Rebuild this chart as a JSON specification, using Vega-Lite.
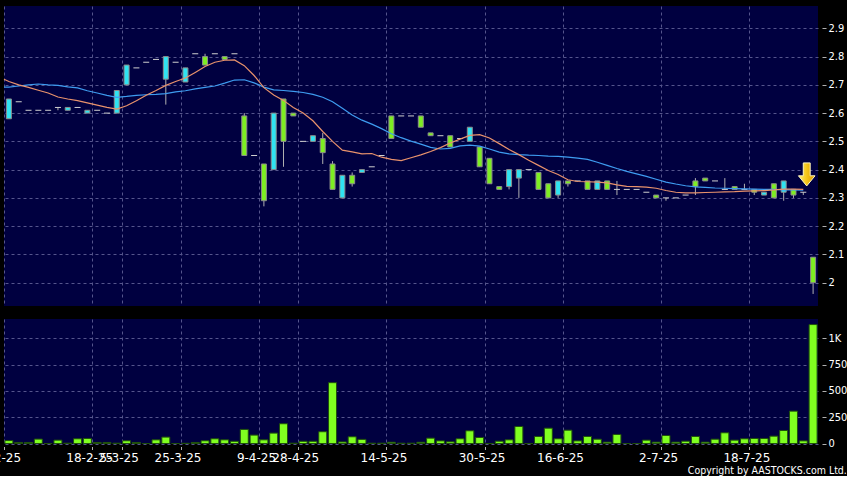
{
  "$schema": "https://vega.github.io/schema/vega-lite/v6.json",
  "background": "#000000",
  "padding": {"left": -19, "top": 6, "right": 0, "bottom": 0},
  "spacing": 13,
  "title": {"text": "Copyright by AASTOCKS.com Ltd.", "orient": "bottom", "anchor": "end", "color": "#ffffff", "fontSize": 10.5, "font": "DejaVu Sans Condensed", "fontWeight": "normal", "offset": 2},
  "datasets": {
    "k": [
      {"i":0,"o":2.58,"h":2.65,"l":2.58,"c":2.65,"v":28},
      {"i":1,"o":2.64,"h":2.64,"l":2.64,"c":2.64,"v":10},
      {"i":2,"o":2.61,"h":2.61,"l":2.61,"c":2.61,"v":10},
      {"i":3,"o":2.61,"h":2.61,"l":2.61,"c":2.61,"v":42},
      {"i":4,"o":2.61,"h":2.61,"l":2.61,"c":2.61,"v":0},
      {"i":5,"o":2.62,"h":2.62,"l":2.61,"c":2.62,"v":32},
      {"i":6,"o":2.61,"h":2.62,"l":2.61,"c":2.62,"v":3},
      {"i":7,"o":2.62,"h":2.62,"l":2.62,"c":2.62,"v":45},
      {"i":8,"o":2.60,"h":2.61,"l":2.60,"c":2.61,"v":48},
      {"i":9,"o":2.61,"h":2.61,"l":2.61,"c":2.61,"v":10},
      {"i":10,"o":2.60,"h":2.60,"l":2.60,"c":2.60,"v":10},
      {"i":11,"o":2.60,"h":2.68,"l":2.60,"c":2.68,"v":3},
      {"i":12,"o":2.70,"h":2.77,"l":2.70,"c":2.77,"v":26},
      {"i":13,"o":2.76,"h":2.76,"l":2.76,"c":2.76,"v":10},
      {"i":14,"o":2.78,"h":2.78,"l":2.78,"c":2.78,"v":0},
      {"i":15,"o":2.79,"h":2.79,"l":2.79,"c":2.79,"v":35},
      {"i":16,"o":2.72,"h":2.80,"l":2.63,"c":2.80,"v":61},
      {"i":17,"o":2.78,"h":2.78,"l":2.78,"c":2.78,"v":0},
      {"i":18,"o":2.71,"h":2.76,"l":2.71,"c":2.76,"v":2},
      {"i":19,"o":2.81,"h":2.81,"l":2.81,"c":2.81,"v":10},
      {"i":20,"o":2.80,"h":2.81,"l":2.77,"c":2.77,"v":26},
      {"i":21,"o":2.81,"h":2.81,"l":2.81,"c":2.81,"v":45},
      {"i":22,"o":2.80,"h":2.80,"l":2.79,"c":2.79,"v":35},
      {"i":23,"o":2.81,"h":2.81,"l":2.81,"c":2.81,"v":21},
      {"i":24,"o":2.59,"h":2.60,"l":2.45,"c":2.45,"v":134},
      {"i":25,"o":2.45,"h":2.45,"l":2.45,"c":2.45,"v":80},
      {"i":26,"o":2.42,"h":2.42,"l":2.27,"c":2.29,"v":35},
      {"i":27,"o":2.40,"h":2.60,"l":2.40,"c":2.60,"v":99},
      {"i":28,"o":2.65,"h":2.65,"l":2.41,"c":2.50,"v":188},
      {"i":29,"o":2.60,"h":2.60,"l":2.59,"c":2.59,"v":3},
      {"i":30,"o":2.50,"h":2.50,"l":2.50,"c":2.50,"v":21},
      {"i":31,"o":2.50,"h":2.52,"l":2.50,"c":2.52,"v":21},
      {"i":32,"o":2.51,"h":2.53,"l":2.42,"c":2.46,"v":112},
      {"i":33,"o":2.42,"h":2.43,"l":2.33,"c":2.33,"v":579},
      {"i":34,"o":2.30,"h":2.38,"l":2.30,"c":2.38,"v":15},
      {"i":35,"o":2.38,"h":2.39,"l":2.34,"c":2.35,"v":64},
      {"i":36,"o":2.39,"h":2.40,"l":2.39,"c":2.40,"v":39},
      {"i":37,"o":2.41,"h":2.41,"l":2.41,"c":2.41,"v":3},
      {"i":38,"o":2.45,"h":2.45,"l":2.45,"c":2.45,"v":3},
      {"i":39,"o":2.59,"h":2.59,"l":2.51,"c":2.51,"v":12},
      {"i":40,"o":2.59,"h":2.59,"l":2.59,"c":2.59,"v":3},
      {"i":41,"o":2.59,"h":2.59,"l":2.59,"c":2.59,"v":3},
      {"i":42,"o":2.59,"h":2.59,"l":2.55,"c":2.55,"v":12},
      {"i":43,"o":2.53,"h":2.53,"l":2.52,"c":2.52,"v":51},
      {"i":44,"o":2.52,"h":2.52,"l":2.52,"c":2.52,"v":25},
      {"i":45,"o":2.52,"h":2.52,"l":2.48,"c":2.48,"v":16},
      {"i":46,"o":2.51,"h":2.51,"l":2.51,"c":2.51,"v":45},
      {"i":47,"o":2.50,"h":2.55,"l":2.50,"c":2.55,"v":121},
      {"i":48,"o":2.48,"h":2.48,"l":2.41,"c":2.41,"v":57},
      {"i":49,"o":2.44,"h":2.44,"l":2.35,"c":2.35,"v":0},
      {"i":50,"o":2.34,"h":2.34,"l":2.33,"c":2.33,"v":22},
      {"i":51,"o":2.34,"h":2.40,"l":2.33,"c":2.40,"v":35},
      {"i":52,"o":2.37,"h":2.40,"l":2.30,"c":2.40,"v":162},
      {"i":53,"o":2.40,"h":2.40,"l":2.40,"c":2.40,"v":0},
      {"i":54,"o":2.39,"h":2.39,"l":2.33,"c":2.33,"v":67},
      {"i":55,"o":2.35,"h":2.35,"l":2.30,"c":2.30,"v":146},
      {"i":56,"o":2.31,"h":2.36,"l":2.30,"c":2.36,"v":45},
      {"i":57,"o":2.36,"h":2.36,"l":2.34,"c":2.35,"v":127},
      {"i":58,"o":2.36,"h":2.36,"l":2.36,"c":2.36,"v":25},
      {"i":59,"o":2.36,"h":2.36,"l":2.33,"c":2.33,"v":67},
      {"i":60,"o":2.33,"h":2.36,"l":2.33,"c":2.36,"v":41},
      {"i":61,"o":2.36,"h":2.36,"l":2.33,"c":2.33,"v":13},
      {"i":62,"o":2.33,"h":2.36,"l":2.31,"c":2.33,"v":86},
      {"i":63,"o":2.33,"h":2.33,"l":2.33,"c":2.33,"v":0},
      {"i":64,"o":2.33,"h":2.33,"l":2.33,"c":2.33,"v":0},
      {"i":65,"o":2.32,"h":2.32,"l":2.32,"c":2.32,"v":32},
      {"i":66,"o":2.31,"h":2.31,"l":2.30,"c":2.30,"v":13},
      {"i":67,"o":2.30,"h":2.30,"l":2.29,"c":2.30,"v":76},
      {"i":68,"o":2.30,"h":2.30,"l":2.30,"c":2.30,"v":13},
      {"i":69,"o":2.31,"h":2.31,"l":2.31,"c":2.31,"v":22},
      {"i":70,"o":2.36,"h":2.37,"l":2.31,"c":2.34,"v":67},
      {"i":71,"o":2.37,"h":2.37,"l":2.36,"c":2.36,"v":13},
      {"i":72,"o":2.36,"h":2.36,"l":2.36,"c":2.36,"v":41},
      {"i":73,"o":2.33,"h":2.37,"l":2.33,"c":2.33,"v":102},
      {"i":74,"o":2.34,"h":2.34,"l":2.33,"c":2.33,"v":32},
      {"i":75,"o":2.33,"h":2.35,"l":2.33,"c":2.33,"v":45},
      {"i":76,"o":2.33,"h":2.33,"l":2.31,"c":2.32,"v":48},
      {"i":77,"o":2.31,"h":2.32,"l":2.31,"c":2.32,"v":48},
      {"i":78,"o":2.35,"h":2.35,"l":2.30,"c":2.30,"v":70},
      {"i":79,"o":2.32,"h":2.36,"l":2.29,"c":2.36,"v":124},
      {"i":80,"o":2.33,"h":2.33,"l":2.30,"c":2.31,"v":308},
      {"i":81,"o":2.32,"h":2.32,"l":2.31,"c":2.32,"v":25},
      {"i":82,"o":2.09,"h":2.09,"l":1.96,"c":2.00,"v":1132}
    ],
    "ma": [
      {"i":-0.5,"a":2.72,"b":2.692},
      {"i":0,"a":2.712,"b":2.692},{"i":1,"a":2.70,"b":2.696},{"i":2,"a":2.691,"b":2.70},{"i":3,"a":2.681,"b":2.703},
      {"i":4,"a":2.671,"b":2.70},{"i":5,"a":2.657,"b":2.698},{"i":6,"a":2.65,"b":2.693},{"i":7,"a":2.644,"b":2.689},
      {"i":8,"a":2.636,"b":2.679},{"i":9,"a":2.628,"b":2.671},{"i":10,"a":2.62,"b":2.663},{"i":11,"a":2.614,"b":2.656},
      {"i":12,"a":2.626,"b":2.659},{"i":13,"a":2.644,"b":2.663},{"i":14,"a":2.663,"b":2.665},{"i":15,"a":2.68,"b":2.666},
      {"i":16,"a":2.698,"b":2.669},{"i":17,"a":2.712,"b":2.675},{"i":18,"a":2.724,"b":2.679},{"i":19,"a":2.744,"b":2.686},
      {"i":20,"a":2.765,"b":2.691},{"i":21,"a":2.78,"b":2.696},{"i":22,"a":2.787,"b":2.706},{"i":23,"a":2.788,"b":2.717},
      {"i":24,"a":2.768,"b":2.718},{"i":25,"a":2.733,"b":2.707},{"i":26,"a":2.69,"b":2.692},{"i":27,"a":2.664,"b":2.682},
      {"i":28,"a":2.645,"b":2.680},{"i":29,"a":2.62,"b":2.677},{"i":30,"a":2.60,"b":2.673},{"i":31,"a":2.573,"b":2.666},
      {"i":32,"a":2.535,"b":2.656},{"i":33,"a":2.50,"b":2.640},{"i":34,"a":2.469,"b":2.617},{"i":35,"a":2.463,"b":2.593},
      {"i":36,"a":2.456,"b":2.575},{"i":37,"a":2.457,"b":2.561},{"i":38,"a":2.444,"b":2.545},{"i":39,"a":2.436,"b":2.527},
      {"i":40,"a":2.432,"b":2.513},{"i":41,"a":2.442,"b":2.501},{"i":42,"a":2.452,"b":2.490},{"i":43,"a":2.464,"b":2.479},
      {"i":44,"a":2.478,"b":2.473},{"i":45,"a":2.494,"b":2.475},{"i":46,"a":2.508,"b":2.484},{"i":47,"a":2.521,"b":2.487},
      {"i":48,"a":2.524,"b":2.483},{"i":49,"a":2.512,"b":2.473},{"i":50,"a":2.492,"b":2.462},{"i":51,"a":2.471,"b":2.456},
      {"i":52,"a":2.453,"b":2.453},{"i":53,"a":2.433,"b":2.451},{"i":54,"a":2.415,"b":2.45},{"i":55,"a":2.397,"b":2.448},
      {"i":56,"a":2.383,"b":2.447},{"i":57,"a":2.364,"b":2.444},{"i":58,"a":2.358,"b":2.441},{"i":59,"a":2.357,"b":2.436},
      {"i":60,"a":2.356,"b":2.426},{"i":61,"a":2.353,"b":2.415},{"i":62,"a":2.346,"b":2.404},{"i":63,"a":2.341,"b":2.394},
      {"i":64,"a":2.340,"b":2.385},{"i":65,"a":2.338,"b":2.376},{"i":66,"a":2.334,"b":2.366},{"i":67,"a":2.326,"b":2.356},
      {"i":68,"a":2.320,"b":2.349},{"i":69,"a":2.318,"b":2.343},{"i":70,"a":2.318,"b":2.339},{"i":71,"a":2.319,"b":2.337},
      {"i":72,"a":2.320,"b":2.335},{"i":73,"a":2.321,"b":2.334},{"i":74,"a":2.322,"b":2.333},{"i":75,"a":2.324,"b":2.332},
      {"i":76,"a":2.325,"b":2.331},{"i":77,"a":2.326,"b":2.330},{"i":78,"a":2.328,"b":2.330},{"i":79,"a":2.331,"b":2.328},
      {"i":80,"a":2.331,"b":2.328},{"i":81,"a":2.330,"b":2.327}
    ],
    "arrow": [{"i": 81.35, "p": 2.383}]
  },
  "vconcat": [
    {
      "width": 814,
      "height": 300,
      "encoding": {
        "x": {"field": "i", "type": "quantitative", "title": null, "scale": {"domain": [-0.5, 82.5], "nice": false, "zero": false, "padding": 0},
              "axis": {"values": [-0.5, 8.5, 11.5, 17.5, 25.5, 29.5, 38.5, 48.5, 56.5, 66.5, 75.5], "labels": false, "ticks": false, "domain": false, "grid": true, "title": null, "gridColor": "#55558c", "gridDash": [3, 3], "gridWidth": 1}}
      },
      "layer": [
        {
          "data": {"name": "k"},
          "transform": [{"filter": "datum.h != datum.l"}],
          "mark": {"type": "rule", "color": "#b0b0b0", "strokeWidth": 1},
          "encoding": {
            "y": {"field": "l", "type": "quantitative", "title": null, "scale": {"domain": [1.9174, 2.979], "nice": false, "zero": false, "padding": 0},
                  "axis": {"orient": "right", "values": [2.0, 2.1, 2.2, 2.3, 2.4, 2.5, 2.6, 2.7, 2.8, 2.9], "format": ".1~f", "title": null, "domain": false, "offset": 4, "tickSize": 4, "tickColor": "#b0b0b0", "labelPadding": 2, "labelOverlap": false, "labelBound": false, "labelColor": "#ffffff", "labelFont": "DejaVu Sans Condensed", "labelFontSize": 11, "grid": true, "gridColor": "#55558c", "gridDash": [3, 3], "gridWidth": 1}},
            "y2": {"field": "h"}
          }
        },
        {
          "data": {"name": "k"},
          "transform": [{"filter": "datum.o != datum.c"}],
          "mark": {"type": "bar", "size": 5, "stroke": "#8c8c8c", "strokeWidth": 1},
          "encoding": {
            "y": {"field": "o", "type": "quantitative", "title": null, "scale": {"domain": [1.9174, 2.979], "nice": false, "zero": false, "padding": 0},
                  "axis": {"orient": "right", "values": [2.0, 2.1, 2.2, 2.3, 2.4, 2.5, 2.6, 2.7, 2.8, 2.9], "format": ".1~f", "title": null, "domain": false, "offset": 4, "tickSize": 4, "tickColor": "#b0b0b0", "labelPadding": 2, "labelOverlap": false, "labelBound": false, "labelColor": "#ffffff", "labelFont": "DejaVu Sans Condensed", "labelFontSize": 11, "grid": true, "gridColor": "#55558c", "gridDash": [3, 3], "gridWidth": 1}},
            "y2": {"field": "c"},
            "fill": {"condition": {"test": "datum.c > datum.o", "value": "#2fe3f2"}, "value": "#7eee22"}
          }
        },
        {
          "data": {"name": "k"},
          "transform": [{"filter": "datum.o == datum.c"}],
          "mark": {"type": "tick", "orient": "horizontal", "size": 6, "thickness": 1, "color": "#d0d0d0", "opacity": 1},
          "encoding": {
            "y": {"field": "c", "type": "quantitative", "title": null, "scale": {"domain": [1.9174, 2.979], "nice": false, "zero": false, "padding": 0},
                  "axis": {"orient": "right", "values": [2.0, 2.1, 2.2, 2.3, 2.4, 2.5, 2.6, 2.7, 2.8, 2.9], "format": ".1~f", "title": null, "domain": false, "offset": 4, "tickSize": 4, "tickColor": "#b0b0b0", "labelPadding": 2, "labelOverlap": false, "labelBound": false, "labelColor": "#ffffff", "labelFont": "DejaVu Sans Condensed", "labelFontSize": 11, "grid": true, "gridColor": "#55558c", "gridDash": [3, 3], "gridWidth": 1}}
          }
        },
        {
          "data": {"name": "ma"},
          "mark": {"type": "line", "color": "#3e9cf0", "strokeWidth": 1.2},
          "encoding": {
            "y": {"field": "b", "type": "quantitative", "title": null, "scale": {"domain": [1.9174, 2.979], "nice": false, "zero": false, "padding": 0},
                  "axis": {"orient": "right", "values": [2.0, 2.1, 2.2, 2.3, 2.4, 2.5, 2.6, 2.7, 2.8, 2.9], "format": ".1~f", "title": null, "domain": false, "offset": 4, "tickSize": 4, "tickColor": "#b0b0b0", "labelPadding": 2, "labelOverlap": false, "labelBound": false, "labelColor": "#ffffff", "labelFont": "DejaVu Sans Condensed", "labelFontSize": 11, "grid": true, "gridColor": "#55558c", "gridDash": [3, 3], "gridWidth": 1}}
          }
        },
        {
          "data": {"name": "ma"},
          "mark": {"type": "line", "color": "#e8926c", "strokeWidth": 1.2},
          "encoding": {
            "y": {"field": "a", "type": "quantitative", "title": null, "scale": {"domain": [1.9174, 2.979], "nice": false, "zero": false, "padding": 0},
                  "axis": {"orient": "right", "values": [2.0, 2.1, 2.2, 2.3, 2.4, 2.5, 2.6, 2.7, 2.8, 2.9], "format": ".1~f", "title": null, "domain": false, "offset": 4, "tickSize": 4, "tickColor": "#b0b0b0", "labelPadding": 2, "labelOverlap": false, "labelBound": false, "labelColor": "#ffffff", "labelFont": "DejaVu Sans Condensed", "labelFontSize": 11, "grid": true, "gridColor": "#55558c", "gridDash": [3, 3], "gridWidth": 1}}
          }
        },
        {
          "data": {"name": "arrow"},
          "mark": {"type": "point", "shape": "M -0.3 -1 L 0.3 -1 L 0.3 0.12 L 0.72 0.12 L 0 1 L -0.72 0.12 L -0.3 0.12 Z", "size": 530, "filled": true, "opacity": 1,
                   "fill": {"gradient": "linear", "x1": 0, "y1": 0, "x2": 1, "y2": 0, "stops": [{"offset": 0, "color": "#fff070"}, {"offset": 0.5, "color": "#f5c518"}, {"offset": 1, "color": "#d89a00"}]},
                   "stroke": "#fff6c0", "strokeWidth": 1},
          "encoding": {
            "y": {"field": "p", "type": "quantitative", "title": null, "scale": {"domain": [1.9174, 2.979], "nice": false, "zero": false, "padding": 0},
                  "axis": {"orient": "right", "values": [2.0, 2.1, 2.2, 2.3, 2.4, 2.5, 2.6, 2.7, 2.8, 2.9], "format": ".1~f", "title": null, "domain": false, "offset": 4, "tickSize": 4, "tickColor": "#b0b0b0", "labelPadding": 2, "labelOverlap": false, "labelBound": false, "labelColor": "#ffffff", "labelFont": "DejaVu Sans Condensed", "labelFontSize": 11, "grid": true, "gridColor": "#55558c", "gridDash": [3, 3], "gridWidth": 1}}
          }
        }
      ]
    },
    {
      "width": 814,
      "height": 124.5,
      "data": {"name": "k"},
      "mark": {"type": "bar", "size": 8, "fill": "#80ff20", "stroke": "#1f4f0c", "strokeWidth": 1},
      "encoding": {
        "x": {"field": "i", "type": "quantitative", "scale": {"domain": [-0.5, 82.5], "nice": false, "zero": false, "padding": 0},
              "axis": {"values": [-0.5, 8.5, 11.5, 17.5, 25.5, 29.5, 38.5, 48.5, 56.5, 66.5, 75.5],
                       "labelExpr": "datum.value == -0.5 ? '3-2-25' : datum.value == 8.5 ? '18-2-25' : datum.value == 11.5 ? '5-3-25' : datum.value == 17.5 ? '25-3-25' : datum.value == 25.5 ? '9-4-25' : datum.value == 29.5 ? '28-4-25' : datum.value == 38.5 ? '14-5-25' : datum.value == 48.5 ? '30-5-25' : datum.value == 56.5 ? '16-6-25' : datum.value == 66.5 ? '2-7-25' : '18-7-25'",
                       "labelOverlap": false, "labelFlush": false, "labelBound": false, "labelOffset": -3,
                       "labelColor": "#ffffff", "labelFont": "DejaVu Sans", "labelFontSize": 12, "labelPadding": 3,
                       "ticks": true, "tickSize": 3, "tickColor": "#b0b0b0", "offset": 3, "domain": false, "title": null,
                       "grid": true, "gridColor": "#55558c", "gridDash": [3, 3], "gridWidth": 1}},
        "y": {"field": "v", "type": "quantitative", "scale": {"domain": [0, 1185], "nice": false, "padding": 0},
              "axis": {"orient": "right", "values": [0, 250, 500, 750, 1000], "labelExpr": "datum.value >= 1000 ? '1K' : datum.label", "title": null, "domain": false, "offset": 4, "tickSize": 4, "tickColor": "#b0b0b0", "labelPadding": 2, "labelOverlap": false, "labelBound": false, "labelColor": "#ffffff", "labelFont": "DejaVu Sans Condensed", "labelFontSize": 11, "grid": true, "gridColor": "#55558c", "gridDash": [3, 3], "gridWidth": 1}}
      }
    }
  ],
  "config": {
    "view": {"fill": "#000040", "stroke": null},
    "font": "DejaVu Sans"
  }
}
